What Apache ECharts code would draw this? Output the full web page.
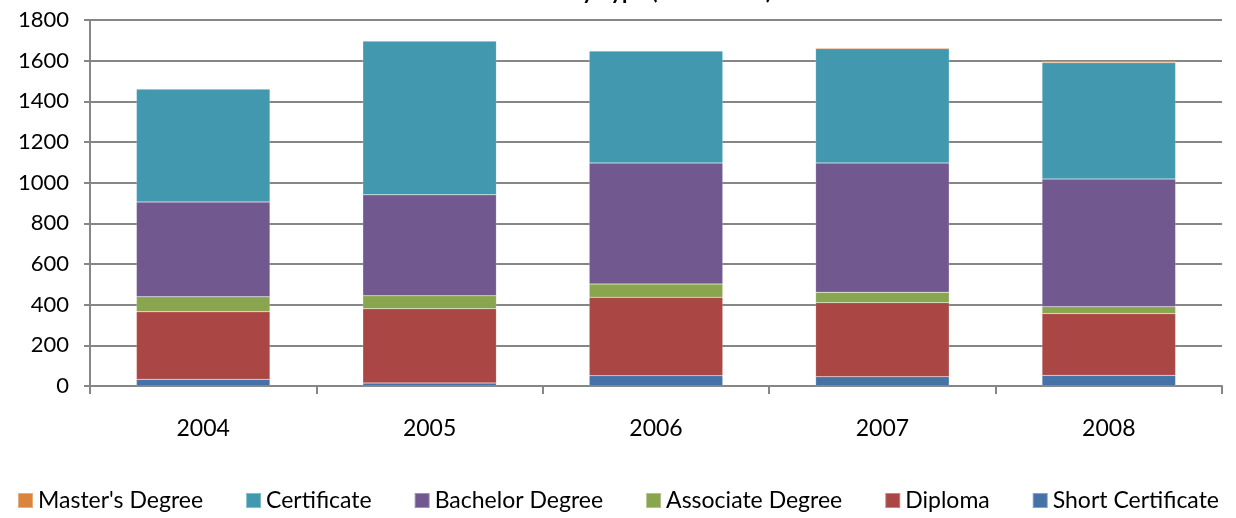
<!DOCTYPE html>
<html>
<head>
<meta charset="utf-8">
<script src="https://cdn.jsdelivr.net/npm/echarts@6/dist/echarts.min.js"></script>
<style>
  html, body { margin: 0; padding: 0; background: #fff; }
  #main { width: 1236px; height: 518px; }
</style>
</head>
<body>
<div id="main"></div>
<script>
var years = ['2004', '2005', '2006', '2007', '2008'];
var shortCert = [33, 15, 51, 46, 52];
var diploma = [332, 365, 385, 364, 304];
var associate = [74, 64, 66, 51, 34];
var bachelor = [466, 496, 595, 636, 628];
var certificate = [556, 757, 551, 562, 572];
var masters = [0, 0, 2, 5, 7];
var yTicks = [0, 200, 400, 600, 800, 1000, 1200, 1400, 1600, 1800];

var FONT = 'Lato, "Open Sans", sans-serif';

var myChart = echarts.init(document.getElementById('main'));

function bar(name, data, color) {
    return {
        name: name,
        type: 'bar',
        stack: 'total',
        barWidth: '59%',
        data: data,
        itemStyle: { color: color, borderColor: 'rgba(255,255,255,0.35)', borderWidth: 0.5 }
    };
}

var option = {
    animation: false,
    title: {
        text: 'Graduates by Type (in numbers)',
        left: 'center',
        top: -24,
        textStyle: { fontFamily: FONT, fontSize: 22, fontWeight: 'bold', color: '#000' }
    },
    grid: { left: 90, right: 14, top: 20, bottom: 132 },
    legend: {
        bottom: 1,
        left: 'center',
        itemWidth: 15,
        itemHeight: 15,
        itemGap: 42,
        itemTextGap: 6,
        icon: 'rect',
        textStyle: { fontFamily: FONT, fontSize: 23, color: '#000' },
        data: ["Master's Degree", 'Certificate', 'Bachelor Degree', 'Associate Degree', 'Diploma', 'Short Certificate']
    },
    xAxis: {
        type: 'category',
        data: years,
        axisLine: { lineStyle: { color: '#868686', width: 2 } },
        axisTick: { show: true, length: 8, lineStyle: { color: '#868686', width: 2 } },
        axisLabel: { fontFamily: FONT, fontSize: 23, color: '#000', margin: 31 }
    },
    yAxis: {
        type: 'value',
        min: yTicks[0],
        max: yTicks[yTicks.length - 1],
        interval: 200,
        axisLine: { show: true, lineStyle: { color: '#868686', width: 2 } },
        axisTick: { show: true, length: 6, lineStyle: { color: '#868686', width: 2 } },
        axisLabel: {
            fontFamily: FONT, fontSize: 22, color: '#000', margin: 21,
            formatter: function (v) { return String(v); }
        },
        splitLine: { lineStyle: { color: '#868686', width: 2 } }
    },
    series: [
        bar('Short Certificate', shortCert, '#4572a7'),
        bar('Diploma', diploma, '#aa4643'),
        bar('Associate Degree', associate, '#89a54e'),
        bar('Bachelor Degree', bachelor, '#71588f'),
        bar('Certificate', certificate, '#4198af'),
        bar("Master's Degree", masters, '#db843d')
    ]
};

myChart.setOption(option);
</script>
</body>
</html>
